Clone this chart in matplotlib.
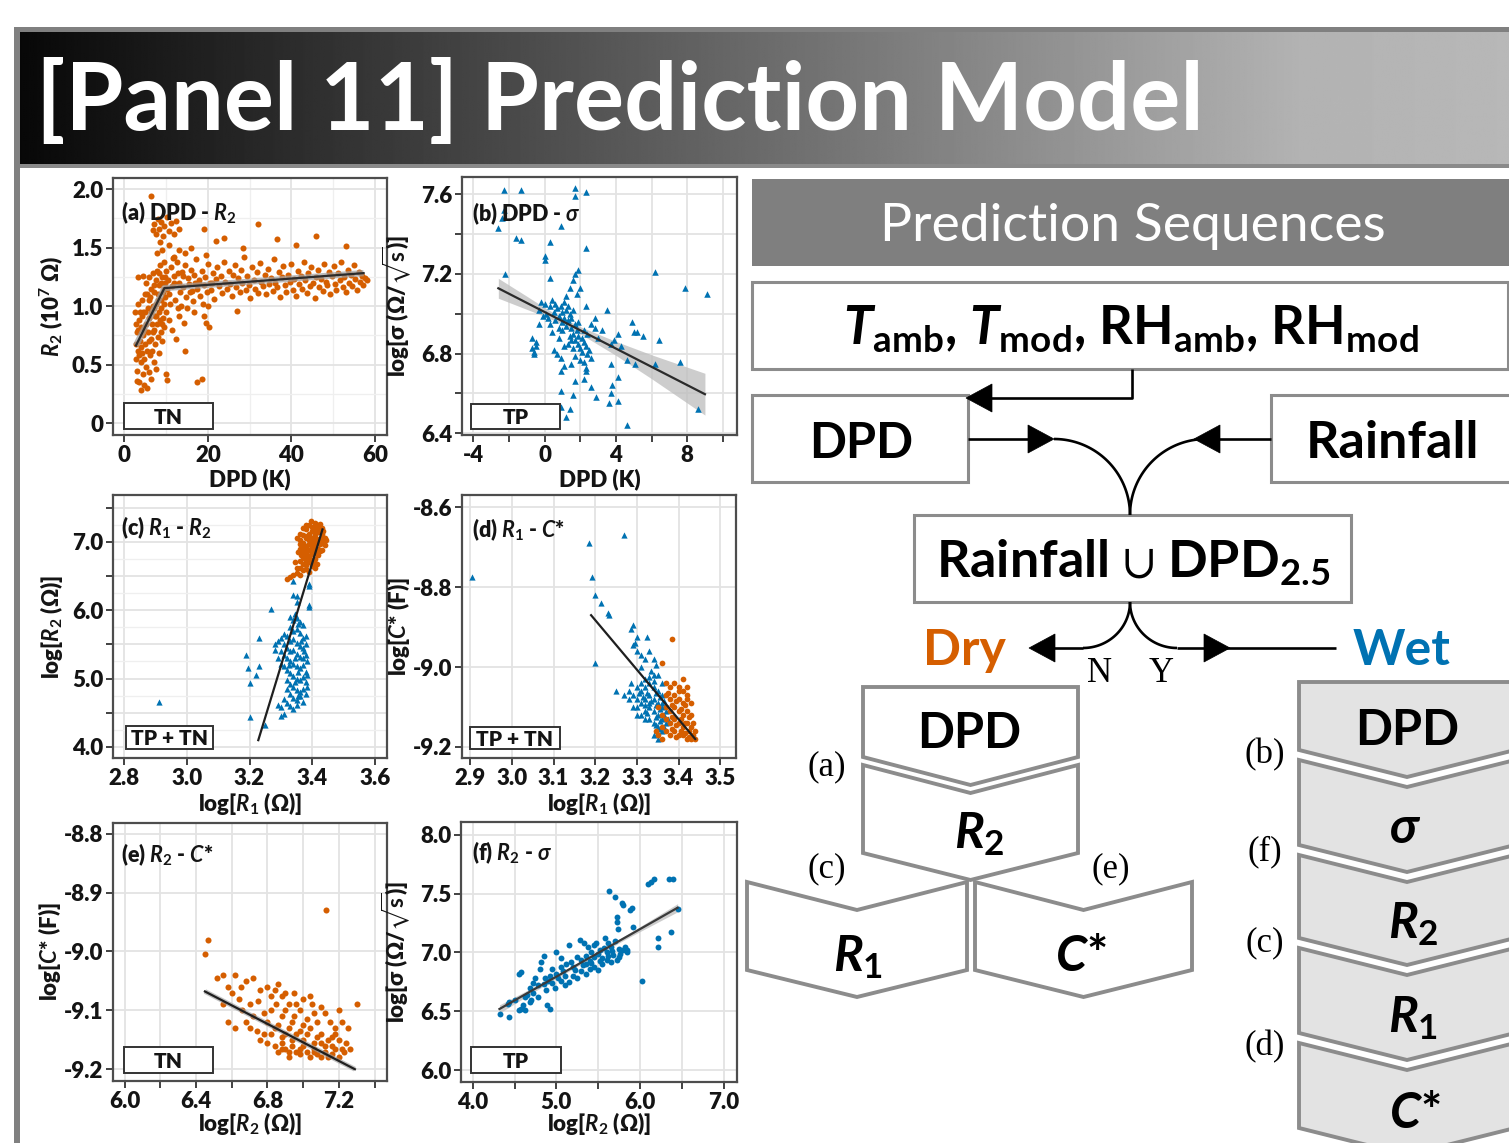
import numpy as np
import matplotlib
matplotlib.use("Agg")
import matplotlib.pyplot as plt
from matplotlib.patches import Polygon, Rectangle
from matplotlib.ticker import AutoMinorLocator

# ======================= DATA =======================
panel_titles = [r"(a) DPD - $R_2$", r"(b) DPD - $\sigma$", r"(c) $R_1$ - $R_2$",
                r"(d) $R_1$ - $C$*", r"(e) $R_2$ - $C$*", r"(f) $R_2$ - $\sigma$"]
group_labels = ["TN", "TP", "TP + TN", "TP + TN", "TN", "TP"]
x_labels = ["DPD (K)", "DPD (K)", r"log[$R_1$ (Ω)]", r"log[$R_1$ (Ω)]",
            r"log[$R_2$ (Ω)]", r"log[$R_2$ (Ω)]"]
y_labels = [r"$R_2$ (10$^7$ Ω)", r"log[σ (Ω/$\sqrt{\mathrm{s}}$)]", r"log[$R_2$ (Ω)]",
            r"log[$C$* (F)]", r"log[$C$* (F)]", r"log[σ (Ω/$\sqrt{\mathrm{s}}$)]"]

# (a) DPD - R2, TN (dry)
a_pts = [
 (2.6,0.95),(2.8,0.55),(3.0,0.78),(3.1,0.45),(3.2,1.02),(3.3,0.62),(3.5,0.88),(3.6,0.35),(3.7,0.70),(3.8,0.95),
 (3.9,0.52),(4.0,0.28),(4.1,0.82),(4.2,1.05),(4.3,0.60),(4.4,0.42),(4.5,0.75),(4.6,0.95),(4.7,0.33),(4.8,0.55),
 (4.9,1.10),(5.0,0.68),(5.1,0.85),(5.2,0.48),(5.3,1.20),(5.4,0.30),(5.5,0.62),(5.6,0.98),(5.7,0.78),(5.8,1.25),
 (5.9,0.44),(6.0,0.90),(6.1,0.58),(6.2,1.08),(6.3,0.72),(6.4,0.38),(6.5,1.15),(6.6,0.85),(6.7,0.62),(6.8,1.00),
 (6.9,1.28),(7.0,0.52),(7.1,0.80),(7.2,1.12),(7.3,0.92),(7.4,0.68),(7.5,1.22),(7.6,0.46),(7.7,1.02),(7.8,0.85),
 (7.9,1.30),(8.0,0.74),(8.1,1.10),(8.2,0.95),(8.3,0.60),(8.4,1.18),(8.5,0.88),(8.6,1.35),(8.7,0.78),(8.8,1.05),
 (8.9,0.98),(9.0,1.25),(9.1,0.70),(9.2,1.12),(9.3,0.90),(9.4,1.38),(9.5,1.02),(9.6,0.82),(9.7,1.20),(9.8,1.08),
 (9.9,0.95),(10.0,1.30),(3.4,1.25),(4.5,1.26),(2.7,0.68),(3.0,0.36),(5.0,0.95),(6.0,1.05),(7.0,1.18),(8.0,1.05),
 (9.0,0.85),(3.2,0.80),(4.0,0.65),(4.8,0.80),(5.5,1.10),(6.3,0.95),(7.2,0.98),(8.3,1.28),(9.5,1.15),(5.8,0.70),
 (6.8,0.78),(7.6,0.92),(4.3,0.92),(3.6,0.58),(2.9,0.85),(8.8,1.20),(9.8,1.25),
 (6.3,1.94),(6.8,1.65),(7.2,1.70),(7.5,1.62),(8.0,1.74),(8.3,1.66),(8.8,1.72),(9.2,1.60),(9.6,1.68),(10.2,1.76),
 (10.6,1.64),(11.2,1.71),(11.8,1.62),(12.5,1.73),(13.0,1.66),(8.5,1.55),(7.8,1.45),(10.8,1.52),(12.0,1.42),(9.0,1.48),
 (10.4,1.22),(10.8,1.10),(11.1,1.33),(11.5,1.17),(11.9,1.26),(12.2,1.05),(12.6,1.38),(13.0,1.20),(13.3,1.12),(13.7,1.29),
 (14.1,1.16),(14.5,1.35),(14.8,1.08),(15.2,1.24),(15.6,1.19),(16.0,1.31),(16.3,1.13),(16.7,1.27),(17.1,1.40),(17.5,1.15),
 (17.8,1.22),(18.2,1.09),(18.6,1.30),(19.0,1.18),(19.3,1.25),(19.7,1.12),(20.1,1.36),(20.5,1.20),(20.8,1.14),(21.2,1.28),
 (21.6,1.06),(22.0,1.23),(22.3,1.33),(22.7,1.17),(23.1,1.26),(23.5,1.11),(23.8,1.38),(24.2,1.21),(24.6,1.15),(25.0,1.30),
 (25.3,1.19),(25.7,1.09),(26.1,1.27),(26.5,1.35),(26.8,1.16),(27.2,1.24),(27.6,1.12),(28.0,1.31),(28.3,1.20),(28.7,1.42),
 (29.1,1.14),(29.5,1.26),(29.8,1.18),(30.2,1.07),(30.6,1.33),(31.0,1.22),(31.3,1.15),(31.7,1.29),(32.1,1.11),(32.5,1.37),
 (32.8,1.21),(33.2,1.17),(33.6,1.27),(34.0,1.10),(34.3,1.32),(34.7,1.19),(35.1,1.24),(35.5,1.13),(35.8,1.40),(36.2,1.20),
 (36.6,1.16),(37.0,1.29),(37.3,1.08),(37.7,1.25),(38.1,1.34),(38.5,1.18),(38.8,1.12),(39.2,1.27),(39.6,1.21),(40.0,1.36),
 (40.3,1.14),(40.7,1.23),(41.1,1.09),(41.5,1.30),(41.8,1.19),(42.2,1.26),(42.6,1.15),(43.0,1.38),(43.3,1.22),(43.7,1.11),
 (44.1,1.28),(44.5,1.17),(44.8,1.33),(45.2,1.20),(45.6,1.07),(46.0,1.25),(46.3,1.31),(46.7,1.16),(47.1,1.23),(47.5,1.13),
 (47.8,1.36),(48.2,1.21),(48.6,1.18),(49.0,1.29),(49.3,1.10),(49.7,1.26),(50.1,1.34),(50.5,1.19),(50.8,1.14),(51.2,1.28),
 (51.6,1.22),(52.0,1.38),(52.3,1.16),(52.7,1.25),(53.1,1.12),(53.5,1.31),(53.8,1.20),(54.2,1.27),(54.6,1.17),(55.0,1.35),
 (55.3,1.23),(55.7,1.14),(56.1,1.29),(56.5,1.21),(56.8,1.26),(57.2,1.18),(57.6,1.24),(58.0,1.22),
 (10.2,1.15),(11.0,1.02),(12.0,1.20),(13.5,1.00),(14.0,1.26),(15.0,0.98),(16.5,1.04),(18.0,1.20),(12.8,1.28),(11.6,1.41),
 (14.6,1.45),(17.0,1.20),(19.5,1.44),(21.0,1.20),(15.8,1.12),(13.2,0.92),(10.6,0.88),(11.4,0.80),(12.3,0.72),(12.8,0.98),
 (14.2,0.86),(13.0,1.48),(16.0,1.50),(18.8,1.02),(20.0,1.00),(16.8,0.95),(19.0,0.92),
 (10.0,0.42),(10.3,0.37),(17.4,0.35),(18.6,0.38),(27.0,0.96),(20.2,0.82),(19.5,0.86),(23.8,1.58),(19.0,1.66),(22.0,1.56),
 (32.0,1.70),(46.0,1.60),(41.0,1.52),(53.0,1.51),(36.5,1.57),(28.5,1.50),(14.5,0.62)]
a_fit_x = [2.8, 9.6, 57.3]
a_fit_y = [0.664, 1.154, 1.282]

# (b) DPD - sigma, TP (wet)
b_pts = [
 (-2.3,7.62),(-1.3,7.62),(1.7,7.63),(1.7,7.59),(2.3,7.61),(-2.3,7.52),(-2.4,7.48),(-2.6,7.43),(0.9,7.44),(-1.6,7.38),
 (-1.3,7.37),(0.3,7.36),(2.3,7.33),(0.0,7.29),(0.0,7.27),(-2.2,7.20),(1.9,7.22),(1.7,7.20),(0.3,7.18),(1.6,7.17),
 (1.4,7.13),(2.0,7.13),(6.2,7.21),(7.9,7.13),(9.1,7.10),(3.5,7.02),(4.9,6.96),(5.2,6.91),(5.5,6.89),(5.0,6.91),
 (4.1,6.90),(3.9,6.87),(4.3,6.84),(3.7,6.85),(6.4,6.87),(4.6,6.77),(5.1,6.75),(6.2,6.75),(7.6,6.76),(3.7,6.75),
 (4.1,6.68),(3.8,6.64),(3.7,6.60),(3.6,6.55),(4.1,6.56),(8.6,6.52),(2.9,6.58),(2.6,6.63),(2.2,6.67),(1.7,6.66),
 (0.9,6.61),(1.6,6.59),(0.9,6.53),(1.4,6.52),(1.2,6.48),(4.6,6.44),(-0.7,6.88),(-0.7,6.83),(-0.6,6.81),(-0.6,6.80),
 (-0.5,6.86),(-0.5,6.84),(0.5,6.82),(0.7,6.80),(0.9,6.78),(1.1,6.74),(1.5,6.75),(2.2,6.76),(2.3,6.73),(2.3,6.71),
 (0.9,6.71),(-0.3,7.02),(-0.2,7.06),(0.0,7.05),(0.1,7.00),(0.2,6.98),(0.3,7.04),(0.4,7.07),(0.5,7.01),(0.6,6.97),
 (0.7,7.03),(0.8,6.99),(0.9,7.04),(1.0,6.96),(1.0,7.01),(1.1,6.98),(1.2,7.02),(1.2,6.94),(1.3,6.97),(1.4,7.00),
 (1.5,6.93),(1.5,6.98),(1.6,6.90),(1.7,6.95),(1.7,6.87),(1.8,6.92),(1.9,6.85),(1.9,6.89),(2.0,6.83),(2.1,6.88),
 (2.1,6.81),(2.2,6.86),(2.3,6.84),(2.4,6.90),(2.5,6.82),(2.6,6.95),(2.8,6.93),(3.2,6.92),(1.3,6.85),(1.4,6.89),
 (1.6,6.83),(1.0,6.92),(0.8,6.93),(0.6,7.05),(1.1,7.06),(1.3,7.04),(0.3,6.95),(-0.1,6.99),(-0.3,6.95),(1.8,7.10),
 (1.2,7.09),(2.3,7.04),(2.6,6.78),(2.2,6.92),(0.4,6.91),(1.5,6.87),(1.9,6.96),(2.4,6.80),(1.7,6.79),(2.0,6.77),
 (3.0,6.88),(0.8,6.88),(1.1,6.84),(1.6,7.02),(2.8,6.98)]
b_fit_x = [-2.6, 9.0]
b_fit_y = [7.128, 6.596]
b_band_x = [-2.6, -1.0, 0.0, 1.0, 2.0, 4.0, 6.0, 9.0]
b_band_lo = [7.078, 7.022, 6.987, 6.947, 6.899, 6.791, 6.674, 6.491]
b_band_hi = [7.178, 7.088, 7.031, 6.979, 6.935, 6.861, 6.794, 6.701]

# (c) R1 - R2
c_dry = [
 (3.39,7.25),(3.40,7.22),(3.41,7.28),(3.42,7.24),(3.43,7.20),(3.38,7.18),(3.39,7.12),(3.40,7.16),(3.41,7.10),(3.42,7.14),
 (3.43,7.08),(3.44,7.05),(3.37,7.10),(3.38,7.05),(3.39,7.02),(3.40,7.06),(3.41,7.00),(3.42,7.03),(3.43,6.98),(3.44,6.95),
 (3.36,7.02),(3.37,6.98),(3.38,6.94),(3.39,6.97),(3.40,6.92),(3.41,6.95),(3.42,6.90),(3.43,6.88),(3.36,6.90),(3.37,6.86),
 (3.38,6.84),(3.39,6.88),(3.40,6.82),(3.41,6.85),(3.42,6.80),(3.37,6.78),(3.38,6.74),(3.39,6.78),(3.40,6.72),(3.41,6.75),
 (3.36,6.72),(3.37,6.68),(3.38,6.66),(3.39,6.70),(3.40,6.64),(3.41,6.62),(3.36,6.62),(3.37,6.58),(3.38,6.60),(3.39,6.56),
 (3.35,6.55),(3.36,6.52),(3.34,6.52),(3.33,6.48),(3.32,6.45),(3.35,6.62),(3.42,7.18),(3.43,7.12),(3.395,7.30),(3.405,7.20),
 (3.415,7.16),(3.425,7.26),(3.435,7.15),(3.445,7.02),(3.385,7.08),(3.395,7.00),(3.405,6.98),(3.415,7.04),(3.425,6.96),(3.435,7.02),
 (3.375,6.92),(3.385,6.90),(3.395,6.86),(3.405,6.90),(3.415,6.82),(3.425,6.86),(3.365,6.80),(3.375,6.76),(3.385,6.80),(3.395,6.74),
 (3.405,6.70),(3.415,6.68),(3.36,6.96),(3.355,6.85),(3.35,7.05),(3.345,6.70),(3.36,7.12),(3.37,7.20),(3.38,7.24)]
c_wet = [
 (2.91,4.66),(3.20,4.44),(3.19,5.35),(3.195,5.15),(3.20,4.93),(3.22,5.05),(3.23,5.18),(3.23,5.60),(3.27,6.02),(3.25,4.32),
 (3.34,6.43),(3.34,6.22),(3.35,6.20),(3.35,6.12),(3.39,6.35),(3.39,6.38),(3.39,6.08),(3.39,6.05),(3.30,4.58),(3.30,4.45),
 (3.31,4.48),(3.29,4.62),
 (3.33,5.90),(3.34,5.85),(3.35,5.88),(3.36,5.82),(3.37,5.78),(3.33,5.75),(3.34,5.70),(3.35,5.72),(3.36,5.66),(3.37,5.60),
 (3.38,5.62),(3.32,5.62),(3.33,5.55),(3.34,5.58),(3.35,5.52),(3.36,5.48),(3.37,5.45),(3.38,5.50),(3.31,5.50),(3.32,5.45),
 (3.33,5.40),(3.34,5.42),(3.35,5.36),(3.36,5.32),(3.37,5.30),(3.38,5.35),(3.30,5.40),(3.31,5.35),(3.32,5.30),(3.33,5.26),
 (3.34,5.22),(3.35,5.18),(3.36,5.15),(3.37,5.20),(3.38,5.10),(3.29,5.30),(3.30,5.22),(3.31,5.18),(3.32,5.12),(3.33,5.08),
 (3.34,5.04),(3.35,5.00),(3.36,4.98),(3.37,5.02),(3.38,4.95),(3.32,4.98),(3.33,4.92),(3.34,4.88),(3.35,4.84),(3.36,4.80),
 (3.37,4.85),(3.38,4.78),(3.32,4.85),(3.33,4.78),(3.34,4.72),(3.35,4.68),(3.36,4.74),(3.37,4.66),(3.31,4.70),(3.32,4.65),
 (3.33,4.60),(3.34,4.55),(3.35,4.62),(3.29,5.55),(3.28,5.50),(3.28,5.42),(3.30,5.60),(3.31,5.65),(3.345,5.95),(3.355,5.80),
 (3.365,5.55),(3.375,5.40),(3.385,5.25),(3.385,5.05),(3.385,4.88),(3.345,5.30),(3.355,5.10),(3.325,5.20),(3.345,4.95),(3.355,4.75)]
c_fit_x = [3.228, 3.433]
c_fit_y = [4.10, 7.18]

# (d) R1 - C*
d_wet = [
 (2.905,-8.775),(3.185,-8.69),(3.27,-8.67),(3.193,-8.775),(3.20,-8.82),(3.213,-8.84),(3.23,-8.865),(3.233,-8.87),(3.20,-8.99),(3.25,-9.06),
 (3.29,-8.895),(3.285,-8.905),(3.30,-8.925),(3.29,-8.945),(3.295,-8.94),(3.30,-8.96),(3.31,-8.97),(3.325,-8.925),(3.33,-8.96),(3.32,-8.98),
 (3.34,-8.98),(3.345,-8.995),(3.31,-9.00),(3.335,-9.01),(3.34,-9.02),(3.35,-9.02),(3.285,-9.04),(3.28,-9.06),(3.30,-9.05),
 (3.29,-9.07),(3.30,-9.08),(3.31,-9.06),(3.32,-9.05),(3.33,-9.04),(3.34,-9.05),(3.35,-9.06),(3.36,-9.07),(3.30,-9.10),(3.31,-9.09),
 (3.32,-9.08),(3.33,-9.07),(3.34,-9.08),(3.35,-9.09),(3.36,-9.10),(3.31,-9.12),(3.32,-9.11),(3.33,-9.10),(3.34,-9.11),(3.35,-9.12),
 (3.36,-9.13),(3.37,-9.11),(3.32,-9.13),(3.33,-9.13),(3.34,-9.14),(3.35,-9.15),(3.36,-9.16),(3.37,-9.14),(3.34,-9.17),(3.35,-9.18),
 (3.28,-9.08),(3.27,-9.07),(3.29,-9.10),(3.30,-9.12),(3.325,-9.065),(3.335,-9.085),(3.345,-9.065),(3.355,-9.075),(3.315,-9.075),(3.305,-9.065),
 (3.345,-9.095),(3.355,-9.105),(3.365,-9.085),(3.325,-9.115),(3.345,-9.125),(3.355,-9.135),(3.365,-9.12),(3.375,-9.13),(3.34,-9.035),(3.33,-9.025),
 (3.32,-9.03),(3.36,-9.04),(3.31,-9.04),(3.355,-9.155),(3.365,-9.15),(3.345,-9.145),(3.33,-9.09),(3.32,-9.095),(3.36,-9.09)]
d_dry = [
 (3.38,-9.05),(3.39,-9.04),(3.40,-9.05),(3.41,-9.06),(3.42,-9.05),(3.37,-9.07),(3.38,-9.08),(3.39,-9.07),(3.40,-9.08),(3.41,-9.09),
 (3.42,-9.08),(3.43,-9.09),(3.37,-9.10),(3.38,-9.11),(3.39,-9.10),(3.40,-9.11),(3.41,-9.12),(3.42,-9.11),(3.43,-9.12),(3.36,-9.12),
 (3.37,-9.13),(3.38,-9.14),(3.39,-9.13),(3.40,-9.14),(3.41,-9.15),(3.42,-9.14),(3.43,-9.15),(3.44,-9.16),(3.36,-9.15),(3.37,-9.16),
 (3.38,-9.17),(3.39,-9.16),(3.40,-9.17),(3.41,-9.17),(3.42,-9.18),(3.43,-9.18),(3.44,-9.18),(3.35,-9.17),(3.36,-9.18),(3.375,-9.065),
 (3.385,-9.095),(3.395,-9.085),(3.405,-9.105),(3.415,-9.095),(3.425,-9.125),(3.385,-9.125),(3.395,-9.145),(3.405,-9.13),(3.415,-9.14),(3.425,-9.16),
 (3.435,-9.17),(3.385,-9.155),(3.395,-9.175),(3.405,-9.16),(3.415,-9.165),(3.425,-9.175),(3.435,-9.14),(3.37,-9.04),(3.41,-9.03),(3.385,-8.93),
 (3.36,-8.99),(3.35,-9.10),(3.345,-9.16),(3.42,-9.07),(3.40,-9.06)]
d_fit_x = [3.19, 3.44]
d_fit_y = [-8.87, -9.18]

# (e) R2 - C*, TN (dry)
e_pts = [
 (6.45,-9.005),(6.47,-8.98),(7.13,-8.93),(7.30,-9.09),(6.52,-9.045),(6.55,-9.04),(6.58,-9.06),(6.62,-9.04),(6.68,-9.05),(6.72,-9.045),
 (6.80,-9.06),(6.60,-9.07),(6.64,-9.08),(6.70,-9.09),(6.75,-9.085),(6.84,-9.065),(6.88,-9.075),(6.90,-9.07),(6.95,-9.07),(7.00,-9.08),
 (7.05,-9.09),(7.10,-9.095),(7.15,-9.12),(7.18,-9.13),(6.85,-9.09),(6.92,-9.09),(6.98,-9.10),(6.66,-9.10),(6.68,-9.12),(6.72,-9.11),
 (6.78,-9.105),(6.82,-9.10),(6.88,-9.11),(6.95,-9.11),(7.02,-9.115),(7.08,-9.12),(6.62,-9.13),(6.74,-9.135),(6.80,-9.12),(6.86,-9.125),
 (6.92,-9.13),(6.98,-9.135),(7.04,-9.13),(7.10,-9.14),(7.16,-9.145),(7.20,-9.15),(6.76,-9.15),(6.82,-9.14),(6.88,-9.145),(6.94,-9.15),
 (7.00,-9.15),(7.06,-9.155),(7.12,-9.16),(7.18,-9.165),(7.23,-9.17),(6.84,-9.16),(6.90,-9.165),(6.96,-9.17),(7.02,-9.17),(7.08,-9.175),
 (7.14,-9.18),(7.20,-9.18),(6.92,-9.18),(6.98,-9.175),(7.04,-9.18),(7.10,-9.18),(6.86,-9.17),(7.16,-9.175),(7.22,-9.165),(7.24,-9.155),
 (7.25,-9.13),(7.22,-9.12),(6.80,-9.155),(6.88,-9.155),(6.94,-9.16),(7.00,-9.16),(7.06,-9.165),(7.12,-9.17),(6.96,-9.14),(7.02,-9.14),
 (7.08,-9.145),(6.90,-9.14),(7.14,-9.15),(6.84,-9.13),(7.00,-9.125),(7.06,-9.105),(6.94,-9.12),(6.90,-9.10),(6.96,-9.09),(7.12,-9.105),
 (7.20,-9.10),(6.70,-9.13),(6.78,-9.14),(7.26,-9.165),(6.58,-9.12),(6.55,-9.09),(6.65,-9.06),(6.76,-9.065),(6.82,-9.075),(7.04,-9.075),
 (6.86,-9.055),(7.18,-9.14),(6.98,-9.165),(7.10,-9.155),(6.92,-9.17),(7.06,-9.17),(7.16,-9.16),(6.88,-9.165)]
e_fit_x = [6.45, 7.29]
e_fit_y = [-9.068, -9.20]

# (f) R2 - sigma, TP (wet)
f_pts = [
 (4.33,6.48),(4.43,6.45),(4.43,6.58),(4.42,6.56),(4.55,6.51),(4.58,6.52),(4.62,6.51),(4.50,6.60),(4.55,6.82),(4.58,6.83),
 (4.62,6.62),(4.65,6.64),(4.68,6.70),(4.70,6.60),(4.72,6.74),(4.75,6.78),(4.78,6.72),(4.80,6.86),(4.82,6.92),(4.85,6.97),
 (4.87,6.78),(4.89,6.55),(4.90,6.76),(4.92,6.80),(4.95,6.74),(5.00,7.00),(5.00,6.82),(5.02,6.78),(5.05,6.88),(5.08,6.84),
 (5.10,6.80),(5.12,6.90),(5.15,7.06),(5.18,6.92),(5.20,6.88),(5.22,6.85),(5.25,6.96),(5.28,7.11),(5.30,6.94),(5.32,6.89),
 (5.35,6.97),(5.38,7.05),(5.40,6.93),(5.42,7.00),(5.45,6.96),(5.48,7.08),(5.50,6.99),(5.52,7.02),(5.55,6.95),(5.57,7.04),
 (5.60,7.00),(5.62,6.97),(5.63,7.52),(5.65,7.05),(5.67,7.01),(5.70,7.10),(5.70,7.47),(5.72,7.30),(5.73,7.26),(5.74,7.20),
 (5.75,7.03),(5.78,7.42),(5.80,7.40),(5.82,7.05),(5.85,7.02),(5.88,7.36),(5.90,7.38),(5.92,7.22),(6.03,6.76),(6.10,7.58),
 (6.13,7.60),(6.17,7.62),(6.22,7.12),(6.22,7.05),(6.35,7.62),(6.40,7.62),(6.37,7.17),(6.45,7.37),(5.05,6.95),(5.15,6.75),
 (5.25,6.78),(5.35,6.82),(5.45,6.88),(5.55,6.90),(5.65,6.92),(5.75,6.96),(5.80,7.02),(5.50,6.85),(5.40,6.86),(5.30,6.84),
 (5.20,6.80),(5.10,6.72),(4.98,6.70),(4.88,6.68),(4.78,6.62),(4.68,6.58),(5.33,7.08),(5.45,7.06),(5.58,7.12),(5.68,6.98),
 (5.62,7.08),(5.52,6.93),(5.42,6.91),(5.36,6.90),(5.60,6.94),(5.76,6.99),(5.84,7.00),(5.72,6.94),(4.95,6.86),(5.05,6.76),
 (4.85,6.73),(4.72,6.66),(4.60,6.55),(4.92,6.52)]
f_fit_x = [4.32, 6.45]
f_fit_y = [6.52, 7.38]
f_band_x = [4.32, 4.85, 5.4, 5.9, 6.45]
f_band_lo = [6.485, 6.716, 6.944, 7.140, 7.345]
f_band_hi = [6.555, 6.752, 6.968, 7.176, 7.415]

# axis ticks / labels
a_xticks, a_xtl = [0, 20, 40, 60], ["0", "20", "40", "60"]
a_yticks, a_ytl = [0, 0.5, 1.0, 1.5, 2.0], ["0", "0.5", "1.0", "1.5", "2.0"]
b_xticks, b_xtl = [-4, -2, 0, 2, 4, 6, 8, 10], ["-4", "", "0", "", "4", "", "8", ""]
b_yticks, b_ytl = [6.4, 6.6, 6.8, 7.0, 7.2, 7.4, 7.6], ["6.4", "", "6.8", "", "7.2", "", "7.6"]
c_xticks, c_xtl = [2.8, 3.0, 3.2, 3.4, 3.6], ["2.8", "3.0", "3.2", "3.4", "3.6"]
c_yticks, c_ytl = [4.0, 4.5, 5.0, 5.5, 6.0, 6.5, 7.0, 7.5], ["4.0", "", "5.0", "", "6.0", "", "7.0", ""]
d_xticks, d_xtl = [2.9, 3.0, 3.1, 3.2, 3.3, 3.4, 3.5], ["2.9", "3.0", "3.1", "3.2", "3.3", "3.4", "3.5"]
d_yticks, d_ytl = [-9.2, -9.0, -8.8, -8.6], ["-9.2", "-9.0", "-8.8", "-8.6"]
e_xticks, e_xtl = [6.0, 6.2, 6.4, 6.6, 6.8, 7.0, 7.2, 7.4], ["6.0", "", "6.4", "", "6.8", "", "7.2", ""]
e_yticks, e_ytl = [-9.2, -9.1, -9.0, -8.9, -8.8], ["-9.2", "-9.1", "-9.0", "-8.9", "-8.8"]
f_xticks, f_xtl = [4.0, 4.5, 5.0, 5.5, 6.0, 6.5, 7.0], ["4.0", "", "5.0", "", "6.0", "", "7.0"]
f_yticks, f_ytl = [6.0, 6.5, 7.0, 7.5, 8.0], ["6.0", "6.5", "7.0", "7.5", "8.0"]

# ======================= STYLE =======================
W, H = 1509, 1143
ORANGE = "#D55E00"
BLUE = "#0072B2"
TXT = "#141414"
HEAVY = "heavy"
plt.rcParams["font.family"] = ["Lato", "DejaVu Sans"]
plt.rcParams["mathtext.fontset"] = "custom"
plt.rcParams["mathtext.rm"] = "Lato:bold"
plt.rcParams["mathtext.it"] = "Lato:italic:bold"
plt.rcParams["mathtext.bf"] = "Lato:bold"
plt.rcParams["mathtext.sf"] = "Lato:bold"
plt.rcParams["mathtext.fallback"] = "stixsans"

fig = plt.figure(figsize=(W / 100, H / 100), dpi=100)
fig.patch.set_facecolor("white")


def add_ax(box):
    l, t, r, b = box
    return fig.add_axes([l / W, 1 - b / H, (r - l) / W, (b - t) / H])


def style(ax, box, xlim, ylim, xt, xtl, yt, ytl, xlab, ylab, xlab_top, ylab_right,
          xminor=False, yminor=False):
    l, t, r, b = box
    ax.set_xlim(xlim)
    ax.set_ylim(ylim)
    ax.set_xticks(xt)
    ax.set_xticklabels(xtl)
    ax.set_yticks(yt)
    ax.set_yticklabels(ytl)
    if xminor:
        ax.xaxis.set_minor_locator(AutoMinorLocator(2))
    if yminor:
        ax.yaxis.set_minor_locator(AutoMinorLocator(2))
    ax.set_axisbelow(True)
    ax.grid(which="major", color="#e3e3e3", lw=1.3)
    ax.grid(which="minor", color="#efefef", lw=0.9)
    ax.tick_params(which="minor", length=0)
    ax.tick_params(which="major", length=5, width=1.3, color="#333333",
                   labelsize=16, pad=2, labelcolor=TXT)
    for lab in ax.get_xticklabels() + ax.get_yticklabels():
        lab.set_fontweight(HEAVY)
    for s in ax.spines.values():
        s.set_color("#4d4d4d")
        s.set_linewidth(1.6)
    ax.set_xlabel(xlab, fontsize=16, fontweight=HEAVY, color=TXT)
    ax.set_ylabel(ylab, fontsize=16, fontweight=HEAVY, color=TXT)
    ax.xaxis.set_label_coords(0.5, (b - xlab_top) / (b - t))
    ax.yaxis.set_label_coords((ylab_right - l) / (r - l), 0.5)


boxes = [(113, 178, 387, 435), (462, 177, 737, 435), (113, 495, 387, 758),
         (462, 495, 736, 758), (113, 823, 387, 1081), (461, 822, 737, 1082)]
axs = [add_ax(bx) for bx in boxes]

# (a)
ax = axs[0]
ax.scatter(*zip(*a_pts), s=19, c=ORANGE, linewidths=0, marker="o")
ax.plot(a_fit_x, a_fit_y, color="#a0a0a0", lw=4.5, alpha=0.7, solid_capstyle="butt")
ax.plot(a_fit_x, a_fit_y, color="#2b2b2b", lw=1.6)
style(ax, boxes[0], (-2.7, 62.9), (-0.1, 2.094), a_xticks, a_xtl, a_yticks, a_ytl,
      x_labels[0], y_labels[0], 468, 65, xminor=True, yminor=True)

# (b)
ax = axs[1]
ax.fill_between(b_band_x, b_band_lo, b_band_hi, color="#bdbdbd", alpha=0.75, lw=0, zorder=1)
ax.scatter(*zip(*b_pts), s=22, c=BLUE, linewidths=0, marker="^", zorder=2)
ax.plot(b_fit_x, b_fit_y, color="#2b2b2b", lw=1.6, zorder=3)
style(ax, boxes[1], (-4.64, 10.8), (6.391, 7.687), b_xticks, b_xtl, b_yticks, b_ytl,
      x_labels[1], y_labels[1], 468, 413)

# (c)
ax = axs[2]
ax.scatter(*zip(*c_wet), s=20, c=BLUE, linewidths=0, marker="^")
ax.scatter(*zip(*c_dry), s=17, c=ORANGE, linewidths=0, marker="o")
ax.plot(c_fit_x, c_fit_y, color="#1f1f1f", lw=1.6)
style(ax, boxes[2], (2.764, 3.639), (3.839, 7.683), c_xticks, c_xtl, c_yticks, c_ytl,
      x_labels[2], y_labels[2], 790, 65, yminor=True)

# (d)
ax = axs[3]
ax.scatter(*zip(*d_wet), s=20, c=BLUE, linewidths=0, marker="^")
ax.scatter(*zip(*d_dry), s=17, c=ORANGE, linewidths=0, marker="o")
ax.plot(d_fit_x, d_fit_y, color="#1f1f1f", lw=1.6)
style(ax, boxes[3], (2.88, 3.538), (-9.2276, -8.569), d_xticks, d_xtl, d_yticks, d_ytl,
      x_labels[3], y_labels[3], 790, 412)

# (e)
ax = axs[4]
ax.scatter(*zip(*e_pts), s=19, c=ORANGE, linewidths=0, marker="o")
ax.plot(e_fit_x, e_fit_y, color="#9a9a9a", lw=3.5, alpha=0.6, solid_capstyle="butt")
ax.plot(e_fit_x, e_fit_y, color="#1f1f1f", lw=1.6)
style(ax, boxes[4], (5.935, 7.47), (-9.22, -8.782), e_xticks, e_xtl, e_yticks, e_ytl,
      x_labels[4], y_labels[4], 1110, 63)

# (f)
ax = axs[5]
ax.fill_between(f_band_x, f_band_lo, f_band_hi, color="#bdbdbd", alpha=0.75, lw=0, zorder=1)
ax.scatter(*zip(*f_pts), s=18, c=BLUE, linewidths=0, marker="o", zorder=2)
ax.plot(f_fit_x, f_fit_y, color="#3a3a3a", lw=1.6, zorder=3)
style(ax, boxes[5], (3.86, 7.16), (5.9, 8.108), f_xticks, f_xtl, f_yticks, f_ytl,
      x_labels[5], y_labels[5], 1110, 412)

# ======================= OVERLAY (pixel coordinates) =======================
ox = fig.add_axes([0, 0, 1, 1], zorder=10)
ox.patch.set_alpha(0)
ox.axis("off")

# title bar gradient
gx = np.linspace(17, W, 800)
gvals = np.interp(gx, [17, 1300, W], [0.03, 0.70, 0.72])
ox.imshow(gvals[None, :], extent=(17, W, 165, 32), aspect="auto", cmap="gray",
          vmin=0, vmax=1, zorder=1, interpolation="bilinear")
ox.set_xlim(0, W)
ox.set_ylim(H, 0)
ox.add_patch(Rectangle((14, 27), W, 5, fc="#808080", ec="none", zorder=2))
ox.add_patch(Rectangle((14, 164), W, 4, fc="#8a8a8a", ec="none", zorder=2))
ox.add_patch(Rectangle((14, 27), 6, H, fc="#808080", ec="none", zorder=2))
ox.text(36, 130, "[Panel 11] Prediction Model", color="white", fontsize=67.5,
        fontweight="bold", ha="left", va="baseline", zorder=3)

# panel titles and group boxes
title_pos = [(121, 220), (472, 221), (121, 535), (472, 537), (121, 862), (472, 860)]
grp_boxes = [(124, 403, 213, 429), (471, 404, 560, 429), (126, 726, 213, 749),
             (470, 727, 560, 749), (124, 1047, 213, 1073), (471, 1047, 561, 1073)]
for ttl, (tx, ty), lab, (l, t, r, b) in zip(panel_titles, title_pos, group_labels, grp_boxes):
    ox.text(tx, ty, ttl, fontsize=15.5, fontweight=HEAVY, color=TXT,
            ha="left", va="baseline", zorder=5)
    ox.add_patch(Rectangle((l, t), r - l, b - t, fc="white", ec="#333333", lw=1.4, zorder=5))
    ox.text((l + r) / 2, (t + b) / 2 + 1, lab, fontsize=15, fontweight=HEAVY,
            color=TXT, ha="center", va="center", zorder=6)

# ---------------- flowchart ----------------
BOX_EC = "#8c8c8c"
LW_LINE = 1.9


def rect(l, t, r, b, fc="white", ec=BOX_EC, lw=2.2, z=3):
    ox.add_patch(Rectangle((l, t), r - l, b - t, fc=fc, ec=ec, lw=lw, zorder=z))


def arrowhead(tx, ty, d, length=26, half=14):
    bx = tx - d * length
    ox.add_patch(Polygon([(tx, ty), (bx, ty - half), (bx, ty + half)], closed=True,
                         fc="black", ec="black", lw=0.5, zorder=7))


def line(xs, ys):
    ox.plot(xs, ys, color="black", lw=LW_LINE, zorder=6, solid_capstyle="butt")


def chevron(L, R, top_side, top_pt, bot_side, bot_pt, fc):
    C = (L + R) / 2
    pts = [(L, top_side), (C, top_pt), (R, top_side), (R, bot_side), (C, bot_pt), (L, bot_side)]
    ox.add_patch(Polygon(pts, closed=True, fc=fc, ec="#8c8c8c", lw=2.8,
                         joinstyle="miter", zorder=3))


# banner
ox.add_patch(Rectangle((752, 179), W - 752 + 5, 87, fc="#7f7f7f", ec="none", zorder=2))
ox.text(1133, 241, "Prediction Sequences", color="white", fontsize=38.5,
        ha="center", va="baseline", zorder=4)

# input box
rect(752, 282, 1508, 369)
ox.text(1131, 345, r"$T_{\mathrm{amb}}$, $T_{\mathrm{mod}}$, RH$_{\mathrm{amb}}$, RH$_{\mathrm{mod}}$",
        fontsize=38, fontweight="bold", ha="center", va="baseline", zorder=4)
line([1132, 1132, 990], [369, 398, 398])
arrowhead(966, 398, -1)

# DPD and Rainfall boxes
rect(752, 395, 968, 482)
ox.text(861, 458, "DPD", fontsize=35, fontweight="bold", ha="center", va="baseline", zorder=4)
rect(1271, 395, 1515, 482)
ox.text(1392, 458, "Rainfall", fontsize=37.5, fontweight="bold", ha="center", va="baseline", zorder=4)

tt = np.linspace(0, np.pi / 2, 60)
line([968, 1040], [439, 439])
arrowhead(1054, 439, 1)
line(1054 + 76 * np.sin(tt), 515 - 76 * np.cos(tt))
line([1271, 1205], [439, 439])
arrowhead(1194, 439, -1)
line(1206 - 76 * np.sin(tt), 515 - 76 * np.cos(tt))

# union box
rect(914, 515, 1351, 602)
ox.text(1133, 578, r"Rainfall $\cup$ DPD$_{\mathrm{2.5}}$", fontsize=37.5, fontweight="bold",
        ha="center", va="baseline", zorder=4)

# Dry / Wet split
line(1083 + 47 * np.cos(tt), 602 + 46 * np.sin(tt))
line([1083, 1045], [648, 648])
arrowhead(1029, 648, -1)
line(1177 - 47 * np.cos(tt), 602 + 46 * np.sin(tt))
line([1177, 1336], [648, 648])
arrowhead(1230, 648, 1)
ox.text(1100, 682, "N", fontsize=25, family="Liberation Serif", ha="center", va="baseline", zorder=4)
ox.text(1161, 682, "Y", fontsize=25, family="Liberation Serif", ha="center", va="baseline", zorder=4)
ox.text(964, 665, "Dry", fontsize=36, fontweight="bold", color=ORANGE, ha="center", va="baseline", zorder=4)
ox.text(1402, 665, "Wet", fontsize=36, fontweight="bold", color=BLUE, ha="center", va="baseline", zorder=4)

# Dry sequence
chevron(863, 1078, 687, 687, 757, 785, "white")
chevron(863, 1078, 765, 793, 853, 880, "white")
chevron(747, 967, 882, 910, 970, 997, "white")
chevron(975, 1192, 882, 910, 970, 997, "white")
ox.text(969, 748, "DPD", fontsize=35, fontweight="bold", ha="center", va="baseline", zorder=4)
ox.text(979, 848, r"$R_2$", fontsize=36, ha="center", va="baseline", zorder=4)
ox.text(858, 971, r"$R_1$", fontsize=36, ha="center", va="baseline", zorder=4)
ox.text(1081, 971, r"$C$*", fontsize=36, fontweight="bold", ha="center", va="baseline", zorder=4)

# Wet sequence
WL, WR = 1299, 1515
chevron(WL, WR, 682, 682, 750, 777, "#e3e3e3")
chevron(WL, WR, 760, 787, 845, 872, "#e3e3e3")
chevron(WL, WR, 855, 882, 938, 965, "#e3e3e3")
chevron(WL, WR, 948, 975, 1033, 1060, "#e3e3e3")
chevron(WL, WR, 1043, 1070, 1128, 1155, "#e3e3e3")
ox.text(1407, 745, "DPD", fontsize=35, fontweight="bold", ha="center", va="baseline", zorder=4)
ox.text(1405, 843, r"$\sigma$", fontsize=36, ha="center", va="baseline", zorder=4)
ox.text(1413, 938, r"$R_2$", fontsize=36, ha="center", va="baseline", zorder=4)
ox.text(1413, 1032, r"$R_1$", fontsize=36, ha="center", va="baseline", zorder=4)
ox.text(1415, 1128, r"$C$*", fontsize=36, fontweight="bold", ha="center", va="baseline", zorder=4)

# step labels
step_labels = [("(a)", 827, 767), ("(c)", 827, 869), ("(e)", 1111, 869),
               ("(b)", 1265, 755), ("(f)", 1265, 852), ("(c)", 1265, 943), ("(d)", 1265, 1047)]
for s, x, y in step_labels:
    ox.text(x, y, s, fontsize=25, family="Liberation Serif", ha="center", va="center", zorder=4)

fig.savefig("out.png", dpi=100)
